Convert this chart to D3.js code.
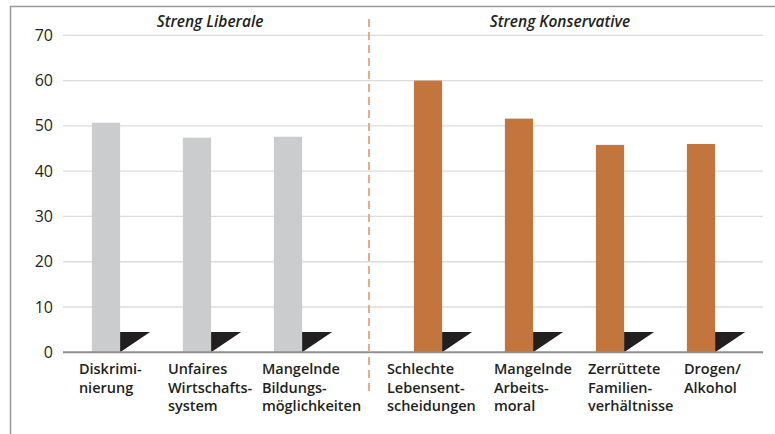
<!DOCTYPE html>
<html>
<head>
<meta charset="utf-8">
<script src="https://cdn.jsdelivr.net/npm/d3@7"></script>
<style>
  body { margin: 0; background: #fff; }
  svg { display: block; }
</style>
</head>
<body>
<div id="chart"></div>
<script>
// data
const LIBERAL_CATS = [["Diskrimi-", "nierung"], ["Unfaires", "Wirtschafts-", "system"], ["Mangelnde", "Bildungs-", "möglichkeiten"]];
const LIBERAL_VALUES = [50.7, 47.4, 47.6];
const CONSERV_CATS = [["Schlechte", "Lebensent-", "scheidungen"], ["Mangelnde", "Arbeits-", "moral"], ["Zerrüttete", "Familien-", "verhältnisse"], ["Drogen/", "Alkohol"]];
const CONSERV_VALUES = [60.0, 51.6, 45.8, 46.0];
const MARKER_VALUES = [4.5, 4.5, 4.5, 4.5, 4.5, 4.5, 4.5];
const GROUP_TITLES = ["Streng Liberale", "Streng Konservative"];
const Y_TICKS = [0, 10, 20, 30, 40, 50, 60, 70];

// layout
const WIDTH = 775, HEIGHT = 434;
const X0 = 63, X1 = 763;
const Y_ZERO = 352.3, Y_TOP = 35.3;
const LABEL_DX_LIB = [-13, -15, -12];     // label start relative to bar left
const LABEL_DX_CON = [-27, -11, -8, -3];
const GRAY = "#cbcccd", ORANGE = "#c2763e", DARK = "#231f20";

const svg = d3.select("#chart").append("svg")
  .attr("width", WIDTH)
  .attr("height", HEIGHT);

// frame (top + left)
svg.append("path")
  .attr("d", `M10.5,${HEIGHT} L10.5,6.5 L${WIDTH},6.5`)
  .attr("fill", "none")
  .attr("stroke", "#9a9a9a")
  .attr("stroke-width", 1.5);

const y = d3.scaleLinear().domain([0, 70]).range([Y_ZERO, Y_TOP]);

// two groups, same step, right group shifted by the divider gap
const xLib = d3.scaleBand().domain(d3.range(LIBERAL_VALUES.length))
  .range([60.5, 60.5 + 91 * 3]).paddingInner(0.69).paddingOuter(0.345);
const xCon = d3.scaleBand().domain(d3.range(CONSERV_VALUES.length))
  .range([382.5, 382.5 + 91 * 4]).paddingInner(0.69).paddingOuter(0.345);

// gridlines
svg.append("g")
  .selectAll("line")
  .data(Y_TICKS.filter(d => d > 0))
  .join("line")
  .attr("x1", X0).attr("x2", X1)
  .attr("y1", d => y(d)).attr("y2", d => y(d))
  .attr("stroke", "#dcdcdc")
  .attr("stroke-width", 1.3);

// y axis labels
const yAxis = svg.append("g")
  .attr("transform", `translate(${X0},0)`)
  .call(d3.axisLeft(y).tickValues(Y_TICKS).tickSize(0).tickPadding(10));
yAxis.select(".domain").remove();
yAxis.selectAll("text")
  .attr("font-family", "'Open Sans', sans-serif")
  .attr("font-size", 16)
  .attr("font-weight", 400)
  .attr("fill", "#231f20");

function drawGroup(x, values, cats, color, dxs, markerOffset) {
  const g = svg.append("g");
  g.selectAll("rect")
    .data(values)
    .join("rect")
    .attr("x", (d, i) => x(i))
    .attr("y", d => y(d))
    .attr("width", x.bandwidth())
    .attr("height", d => y(0) - y(d))
    .attr("fill", color);

  // little black wedge next to every bar
  g.selectAll("path.marker")
    .data(values.map((d, i) => MARKER_VALUES[markerOffset + i]))
    .join("path")
    .attr("class", "marker")
    .attr("d", (m, i) => {
      const xl = x(i) + x.bandwidth();
      return `M${xl},${y(0)} L${xl},${y(m)} L${xl + 30},${y(m)} Z`;
    })
    .attr("fill", DARK);

  const lbl = g.selectAll("text.cat")
    .data(cats)
    .join("text")
    .attr("class", "cat")
    .attr("x", (d, i) => x(i) + dxs[i])
    .attr("y", 374)
    .attr("font-family", "'Open Sans', sans-serif")
    .attr("font-size", 14.5)
    .attr("font-weight", 600)
    .attr("fill", DARK);
  lbl.selectAll("tspan")
    .data(d => d)
    .join("tspan")
    .attr("x", function () { return d3.select(this.parentNode).attr("x"); })
    .attr("dy", (d, i) => i === 0 ? 0 : 18.5)
    .text(d => d);
}

drawGroup(xLib, LIBERAL_VALUES, LIBERAL_CATS, GRAY, LABEL_DX_LIB, 0);
drawGroup(xCon, CONSERV_VALUES, CONSERV_CATS, ORANGE, LABEL_DX_CON, LIBERAL_VALUES.length);

// baseline
svg.append("line")
  .attr("x1", X0).attr("x2", X1)
  .attr("y1", y(0)).attr("y2", y(0))
  .attr("stroke", "#8f8f8f")
  .attr("stroke-width", 2);

// divider
svg.append("line")
  .attr("x1", 369).attr("x2", 369)
  .attr("y1", 19).attr("y2", 394)
  .attr("stroke", "#e8ac83")
  .attr("stroke-width", 2)
  .attr("stroke-dasharray", "8,5");

// group titles
svg.selectAll("text.group")
  .data(GROUP_TITLES)
  .join("text")
  .attr("class", "group")
  .attr("x", (d, i) => i === 0 ? 210 : 560)
  .attr("y", 27)
  .attr("text-anchor", "middle")
  .attr("font-family", "'Open Sans', sans-serif")
  .attr("font-size", 15.5)
  .attr("font-style", "italic")
  .attr("font-weight", 600)
  .attr("fill", DARK)
  .text(d => d);
</script>
</body>
</html>
